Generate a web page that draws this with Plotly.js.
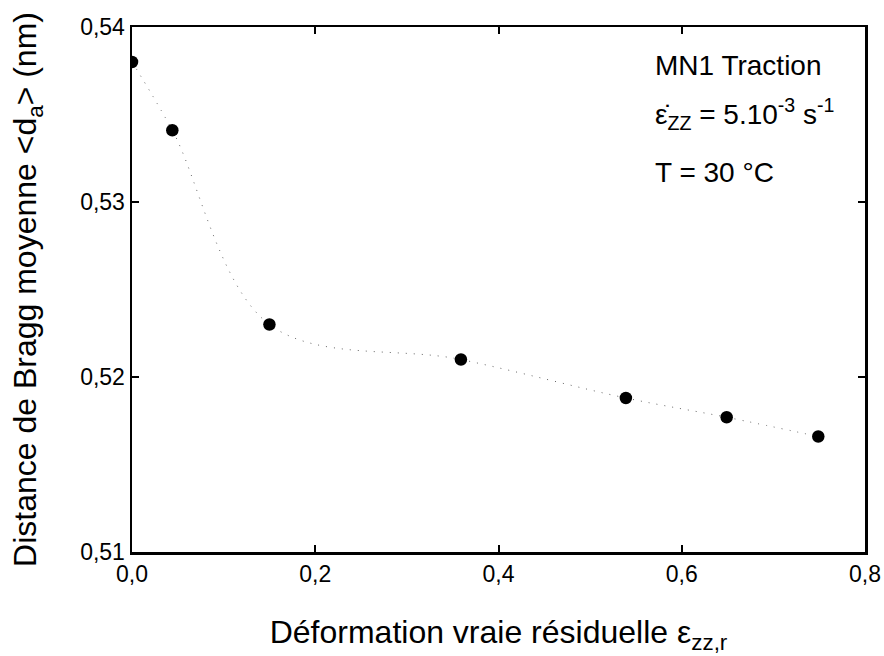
<!DOCTYPE html>
<html>
<head>
<meta charset="utf-8">
<script src="https://cdn.plot.ly/plotly-3.0.1.min.js"></script>
<style>html,body{margin:0;padding:0;background:#fff;}#chart{width:884px;height:656px;}</style>
</head>
<body>
<div id="chart"></div>
<script>
const strain = [0.0, 0.044, 0.150, 0.359, 0.539, 0.649, 0.749];
const dBragg = [0.5380, 0.5341, 0.5230, 0.5210, 0.5188, 0.5177, 0.5166];
const xTickVals = [0.0, 0.2, 0.4, 0.6, 0.8];
const xTickText = ["0,0", "0,2", "0,4", "0,6", "0,8"];
const yTickVals = [0.51, 0.52, 0.53, 0.54];
const yTickText = ["0,51", "0,52", "0,53", "0,54"];

const font = "Liberation Sans, Arial, sans-serif";

const traces = [
  {
    x: strain, y: dBragg, type: "scatter", mode: "lines",
    line: {shape: "spline", smoothing: 1, color: "#666", width: 1, dash: "1px,7px"},
    hoverinfo: "skip", showlegend: false
  },
  {
    x: strain, y: dBragg, type: "scatter", mode: "markers",
    marker: {size: 12.5, color: "#000"},
    showlegend: false
  }
];

const axisCommon = {
  showgrid: false, zeroline: false,
  showline: true, linecolor: "#000", linewidth: 2.5,
  mirror: "ticks", ticks: "inside", ticklen: 7, tickwidth: 2, tickcolor: "#000",
  tickfont: {family: font, size: 23, color: "#000"}
};

const layout = {
  width: 884, height: 656,
  margin: {l: 132, r: 19, t: 27, b: 104},
  paper_bgcolor: "#fff", plot_bgcolor: "#fff",
  font: {family: font, color: "#000"},
  xaxis: Object.assign({}, axisCommon, {
    range: [0, 0.8], tickvals: xTickVals, ticktext: xTickText,
    title: {text: "Déformation vraie résiduelle ε<sub>zz,r</sub>", font: {family: font, size: 32, color: "#000"}, standoff: 35}
  }),
  yaxis: Object.assign({}, axisCommon, {
    range: [0.51, 0.54], tickvals: yTickVals, ticktext: yTickText,
    title: {text: "Distance de Bragg moyenne &lt;d<sub>a</sub>&gt; (nm)", font: {family: font, size: 32, color: "#000"}, standoff: 34}
  }),
  annotations: [
    {xref: "paper", yref: "paper", x: 0.7108, y: 0.9276, xanchor: "left", yanchor: "middle", showarrow: false,
     text: "MN1 Traction", font: {family: font, size: 28, color: "#000"}},
    {xref: "paper", yref: "paper", x: 0.7108, y: 0.834, xanchor: "left", yanchor: "middle", showarrow: false,
     text: "ε̇<sub>ZZ</sub> = 5.10<sup>-3</sup> s<sup>-1</sup>", font: {family: font, size: 28, color: "#000"}},
    {xref: "paper", yref: "paper", x: 0.7108, y: 0.7238, xanchor: "left", yanchor: "middle", showarrow: false,
     text: "T = 30 °C", font: {family: font, size: 28, color: "#000"}}
  ]
};

Plotly.newPlot("chart", traces, layout, {displayModeBar: false, staticPlot: true});
</script>
</body>
</html>
